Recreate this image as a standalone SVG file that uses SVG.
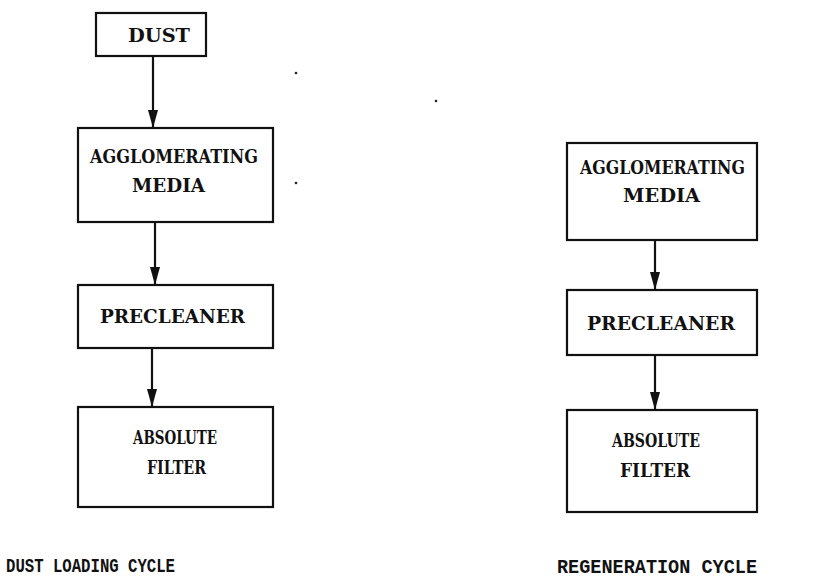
<svg xmlns="http://www.w3.org/2000/svg" width="839" height="581" viewBox="0 0 839 581">
<defs>
<marker id="ah" markerWidth="18" markerHeight="10" refX="18" refY="5" orient="auto" markerUnits="userSpaceOnUse" viewBox="0 0 18 10">
<path d="M0,0 L18,5 L0,10 Z" fill="#111"/>
</marker>
<style>
.box{fill:#fff;stroke:#111;stroke-width:2.2}
.lbl{font-family:"DejaVu Serif","Liberation Serif",serif;font-weight:bold;font-size:18px;fill:#111}
.cap{font-family:"Liberation Mono","DejaVu Sans Mono",monospace;font-weight:bold;font-size:20px;fill:#111}
.con{stroke:#111;stroke-width:2.2;fill:none}
</style>
</defs>
<rect width="839" height="581" fill="#fff"/>
<g id="connectors">
<line class="con" x1="153" y1="56" x2="153" y2="128" marker-end="url(#ah)"/>
<line class="con" x1="155" y1="222" x2="155" y2="285" marker-end="url(#ah)"/>
<line class="con" x1="152" y1="348" x2="152" y2="407" marker-end="url(#ah)"/>
<line class="con" x1="655" y1="240" x2="655" y2="290" marker-end="url(#ah)"/>
<line class="con" x1="655" y1="355" x2="655" y2="410" marker-end="url(#ah)"/>
</g>
<g id="dust">
<rect class="box" x="96" y="13" width="110" height="43"/>
<text class="lbl" x="128" y="42" textLength="62" lengthAdjust="spacingAndGlyphs">DUST</text>
</g>
<g id="agg-left">
<rect class="box" x="78" y="128" width="195" height="94"/>
<text class="lbl" x="90" y="163" textLength="168" lengthAdjust="spacingAndGlyphs">AGGLOMERATING</text>
<text class="lbl" x="132" y="192" textLength="73" lengthAdjust="spacingAndGlyphs">MEDIA</text>
</g>
<g id="pre-left">
<rect class="box" x="78" y="285" width="195" height="63"/>
<text class="lbl" x="100" y="323" textLength="145" lengthAdjust="spacingAndGlyphs">PRECLEANER</text>
</g>
<g id="abs-left">
<rect class="box" x="78" y="407" width="195" height="100"/>
<text class="lbl" x="133" y="444" textLength="84" lengthAdjust="spacingAndGlyphs">ABSOLUTE</text>
<text class="lbl" x="147" y="474" textLength="59" lengthAdjust="spacingAndGlyphs">FILTER</text>
</g>
<g id="agg-right">
<rect class="box" x="567" y="143" width="190" height="97"/>
<text class="lbl" x="580" y="174" textLength="165" lengthAdjust="spacingAndGlyphs">AGGLOMERATING</text>
<text class="lbl" x="623" y="202" textLength="77" lengthAdjust="spacingAndGlyphs">MEDIA</text>
</g>
<g id="pre-right">
<rect class="box" x="567" y="290" width="190" height="65"/>
<text class="lbl" x="587" y="330" textLength="148" lengthAdjust="spacingAndGlyphs">PRECLEANER</text>
</g>
<g id="abs-right">
<rect class="box" x="567" y="410" width="190" height="102"/>
<text class="lbl" x="612" y="447" textLength="88" lengthAdjust="spacingAndGlyphs">ABSOLUTE</text>
<text class="lbl" x="620" y="477" textLength="70" lengthAdjust="spacingAndGlyphs">FILTER</text>
</g>
<g id="captions">
<text class="cap" x="6" y="572" textLength="169" lengthAdjust="spacingAndGlyphs">DUST LOADING CYCLE</text>
<text class="cap" x="557" y="573" textLength="200" lengthAdjust="spacingAndGlyphs">REGENERATION CYCLE</text>
</g>
<g id="specks" fill="#222">
<circle cx="296" cy="73" r="1.3"/>
<circle cx="436" cy="101" r="1.3"/>
<circle cx="296" cy="183" r="1.3"/>
</g>
</svg>
